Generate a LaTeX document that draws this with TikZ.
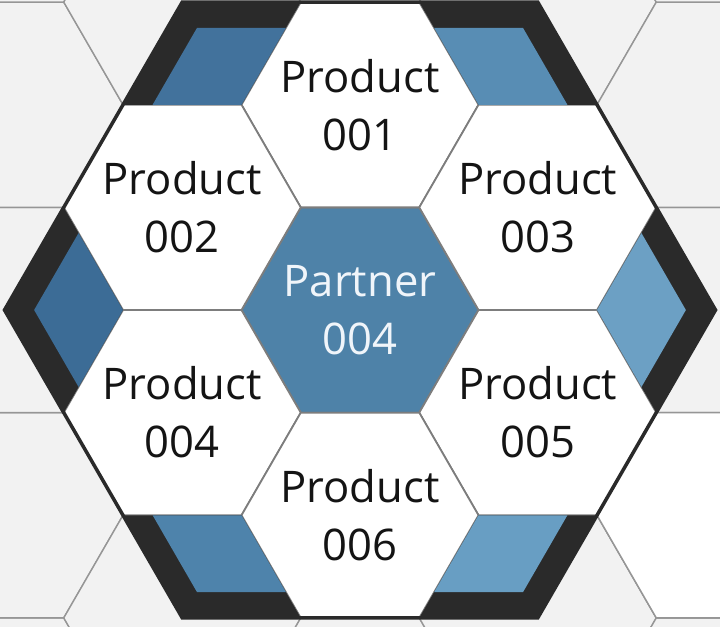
\documentclass[tikz,border=0pt]{standalone}
\usepackage{fontspec}
\setmainfont{Open Sans}
\usetikzlibrary{positioning,calc,backgrounds}
\definecolor{bgtilecol}{RGB}{242,242,242}
\definecolor{tileline}{RGB}{150,150,150}
\definecolor{hexline}{RGB}{125,125,125}
\definecolor{bandcol}{RGB}{42,42,42}
\definecolor{partnercol}{RGB}{78,130,168}
\definecolor{partnertext}{RGB}{240,245,250}
\definecolor{blueTL}{RGB}{66,114,156}
\definecolor{blueTR}{RGB}{88,141,180}
\definecolor{blueR}{RGB}{108,160,196}
\definecolor{blueBR}{RGB}{104,158,195}
\definecolor{blueBL}{RGB}{78,131,171}
\definecolor{blueL}{RGB}{60,108,150}
\newcommand{\hexR}{1.185}
\newcommand{\hexD}{2.0525}

\begin{document}
\begin{tikzpicture}[
    font=\fontsize{12.4}{16.5}\selectfont,
    label/.style={align=center, inner sep=0pt, text=black!92},
    hexcell/.style={draw=hexline, line width=0.5pt},
    bgtile/.style={fill=bgtilecol, draw=tileline, line width=0.4pt},
    band/.style={fill=bandcol}
    ]
    \useasboundingbox (0,0) rectangle (7.2,6.26);

    \node[label, text=partnertext] (partner) at (3.6,3.16) {Partner\\004};
    \node[label] (prod1) at ($(partner)+(90:\hexD)$) {Product\\001};
    \node[label] (prod2) at ($(partner)+(150:\hexD)$) {Product\\002};
    \node[label] (prod3) at ($(partner)+(30:\hexD)$) {Product\\003};
    \node[label] (prod4) at ($(partner)+(210:\hexD)$) {Product\\004};
    \node[label] (prod5) at ($(partner)+(330:\hexD)$) {Product\\005};
    \node[label] (prod6) at ($(partner)+(270:\hexD)$) {Product\\006};

    \begin{scope}[on background layer]
        % background tiling
        \begin{scope}
            \clip (0,0) rectangle (7.2,6.26);
            \foreach \i in {-3,...,3}
                \foreach \j in {-4,...,4}
                    \draw[bgtile, shift={({3.6+\i*1.5*\hexR},{3.16+\i*0.866*\hexR+\j*\hexD})}] (0:\hexR) -- (60:\hexR) -- (120:\hexR) -- (180:\hexR) -- (240:\hexR) -- (300:\hexR) -- cycle;
            \draw[bgtile, fill=white, shift={(7.155,1.1075)}] (0:\hexR) -- (60:\hexR) -- (120:\hexR) -- (180:\hexR) -- (240:\hexR) -- (300:\hexR) -- cycle;
        \end{scope}

        % the seven cells
        \foreach \cell/\col in {partner/partnercol, prod1/white, prod2/white, prod3/white, prod4/white, prod5/white, prod6/white}
            \draw[hexcell, fill=\col, shift={(\cell)}] (0:\hexR) -- (60:\hexR) -- (120:\hexR) -- (180:\hexR) -- (240:\hexR) -- (300:\hexR) -- cycle;

        % corner pieces of the outer ring
        \foreach \ang/\col in {120/blueTL, 60/blueTR, 0/blueR, 300/blueBR, 240/blueBL, 180/blueL} {
            \coordinate (inner) at ($(partner)+(\ang:2*\hexR)$);
            \fill[band] (inner) -- ++(\ang+60:\hexR) -- ++(\ang-60:\hexR) -- ++(\ang-120:\hexR) -- cycle;
            \fill[\col] (inner) -- ++(\ang+60:0.75*\hexR) -- ++(\ang-60:0.75*\hexR) -- ++(\ang-120:0.75*\hexR) -- cycle;
        }

        \draw[bandcol, line width=1pt] ($(partner)+(0:3*\hexR)$) -- ($(partner)+(60:3*\hexR)$) -- ($(partner)+(120:3*\hexR)$) -- ($(partner)+(180:3*\hexR)$) -- ($(partner)+(240:3*\hexR)$) -- ($(partner)+(300:3*\hexR)$) -- cycle;
    \end{scope}
\end{tikzpicture}
\end{document}
